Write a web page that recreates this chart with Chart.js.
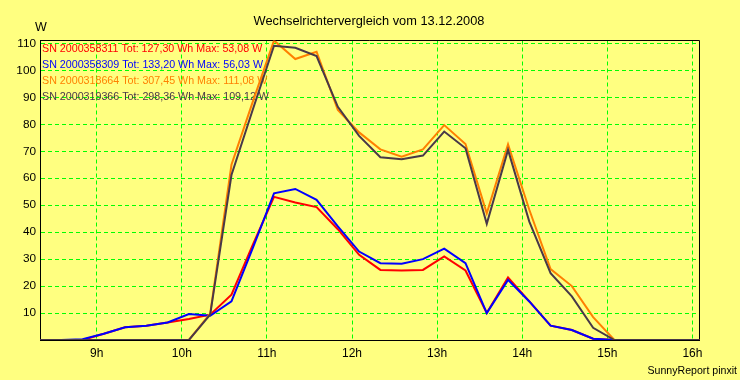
<!DOCTYPE html>
<html>
<head>
<meta charset="utf-8">
<script src="https://cdn.jsdelivr.net/npm/chart.js@4/dist/chart.umd.min.js"></script>
<style>
  html, body { margin: 0; padding: 0; background: #ffff80; }
  #wrap { width: 740px; height: 380px; position: relative; }
</style>
</head>
<body>
<div id="wrap"><canvas id="c" width="740" height="380"></canvas></div>
<script>
// ---- data (15-minute samples) ----
const timeLabels = ['8:20','8:35','8:50','9:05','9:20','9:35','9:50','10:05','10:20','10:35','10:50',
  '11:05','11:20','11:35','11:50','12:05','12:20','12:35','12:50','13:05','13:20','13:35','13:50',
  '14:05','14:20','14:35','14:50','15:05','15:20','15:35','15:50','16:05'];

const sn311 = [0,0,0,2.3,4.7,5.3,6.5,7.8,9.4,16.8,35.3,
  53.08,51.0,49.3,41.1,31.6,26.0,25.8,26.0,31.0,25.8,10.0,23.2,
  14.3,5.3,3.7,0.5,0,0,0,0,0];
const sn309 = [0,0,0.3,2.3,4.7,5.3,6.5,9.6,9.0,14.3,34.1,
  54.4,56.03,52.0,42.1,32.8,28.5,28.3,30.0,33.9,28.5,10.0,22.3,
  14.3,5.3,3.7,0.5,0,0,0,0,0];
const sn664 = [0,0,0,0,0,0,0,0,9.8,65.0,88.3,
  111.08,104.2,106.9,85.3,77.0,70.7,68.0,70.7,79.7,72.7,47.0,72.6,
  48.3,26.3,20.0,8.5,0,0,0,0,0];
const sn366 = [0,0,0,0,0,0,0,0,9.4,61.2,85.4,
  109.12,108.4,105.3,86.5,75.7,67.8,67.0,68.4,77.3,71.1,43.1,70.5,
  43.9,24.8,16.2,4.5,0,0,0,0,0];

const legendTexts = [
  'SN 2000358311 Tot: 127,30 Wh Max: 53,08 W',
  'SN 2000358309 Tot: 133,20 Wh Max: 56,03 W',
  'SN 2000318664 Tot: 307,45 Wh Max: 111,08 W',
  'SN 2000319366 Tot: 298,36 Wh Max: 109,12 W'
];
const seriesColors = ['#ff0000', '#0000ff', '#ff8000', '#483848'];

const xTickHours = [9, 10, 11, 12, 13, 14, 15, 16];
const xTickLabels = ['9h', '10h', '11h', '12h', '13h', '14h', '15h', '16h'];
const yTickValues = [10, 20, 30, 40, 50, 60, 70, 80, 90, 100, 110];

const titleText = 'Wechselrichtervergleich vom 13.12.2008';
const unitText = 'W';
const footerText = 'SunnyReport pinxit';

// ---- build ----
function toHours(t) { const p = t.split(':'); return +p[0] + (+p[1]) / 60; }
const xs = timeLabels.map(toHours);
const allSeries = [sn311, sn309, sn664, sn366];

const FONT = '"Liberation Sans", Arial, sans-serif';

const datasets = allSeries.map((vals, i) => ({
  label: legendTexts[i],
  data: vals.map((v, k) => ({ x: xs[k], y: v })),
  borderColor: seriesColors[i],
  backgroundColor: seriesColors[i],
  borderWidth: 2,
  pointRadius: 0,
  tension: 0,
  fill: false,
  order: 4 - i
}));

const bgPlugin = {
  id: 'bg',
  beforeDraw(chart) {
    const ctx = chart.ctx;
    ctx.save();
    ctx.fillStyle = '#ffff80';
    ctx.fillRect(0, 0, chart.width, chart.height);
    ctx.restore();
  },
  beforeDatasetsDraw(chart) {
    const ctx = chart.ctx;
    const a = chart.chartArea;
    ctx.save();
    // frame top & right
    ctx.strokeStyle = '#000';
    ctx.lineWidth = 1;
    ctx.beginPath();
    ctx.moveTo(a.left, 40.5);
    ctx.lineTo(699.5, 40.5);
    ctx.lineTo(699.5, a.bottom);
    ctx.stroke();
    // legend texts
    ctx.font = '10.7px ' + FONT;
    ctx.textAlign = 'left';
    ctx.textBaseline = 'middle';
    legendTexts.forEach((t, i) => {
      ctx.fillStyle = seriesColors[i];
      ctx.fillText(t, 42, 49 + i * 16.1);
    });
    // title
    ctx.fillStyle = '#000';
    ctx.font = '12.8px ' + FONT;
    ctx.textAlign = 'center';
    ctx.fillText(titleText, 369, 21);
    // unit
    ctx.font = '12.5px ' + FONT;
    ctx.fillText(unitText, 41, 27.5);
    // footer
    ctx.font = '10.6px ' + FONT;
    ctx.textAlign = 'right';
    ctx.fillText(footerText, 737, 371.5);
    ctx.restore();
  }
};

new Chart(document.getElementById('c'), {
  type: 'line',
  data: { datasets },
  plugins: [bgPlugin],
  options: {
    responsive: false,
    animation: false,
    events: [],
    layout: { padding: { top: 40.5, right: 40.5, left: 0, bottom: 0 } },
    plugins: { legend: { display: false }, tooltip: { enabled: false }, title: { display: false } },
    scales: {
      x: {
        type: 'linear',
        min: toHours('8:20'),
        max: toHours('16:05'),
        afterBuildTicks(s) { s.ticks = xTickHours.map(v => ({ value: v })); },
        afterFit(s) { s.height = 40; },
        ticks: {
          autoSkip: false,
          maxRotation: 0,
          padding: 6,
          color: '#000',
          font: { family: FONT, size: 12 },
          callback(v) { const i = xTickHours.indexOf(v); return i >= 0 ? xTickLabels[i] : ''; }
        },
        grid: { color: '#00ff00', lineWidth: 1, drawTicks: false, borderDash: [4, 3] },
        border: { display: true, color: '#000', width: 1, dash: [4, 3] }
      },
      y: {
        min: 0,
        max: 111.08,
        afterBuildTicks(s) { s.ticks = yTickValues.map(v => ({ value: v })); },
        afterFit(s) { s.width = 40; },
        ticks: {
          padding: 4,
          color: '#000',
          font: { family: FONT, size: 11.8 }
        },
        grid: { color: '#00ff00', lineWidth: 1, drawTicks: false, borderDash: [4, 3] },
        border: { display: true, color: '#000', width: 1, dash: [4, 3] }
      }
    }
  }
});
</script>
</body>
</html>
